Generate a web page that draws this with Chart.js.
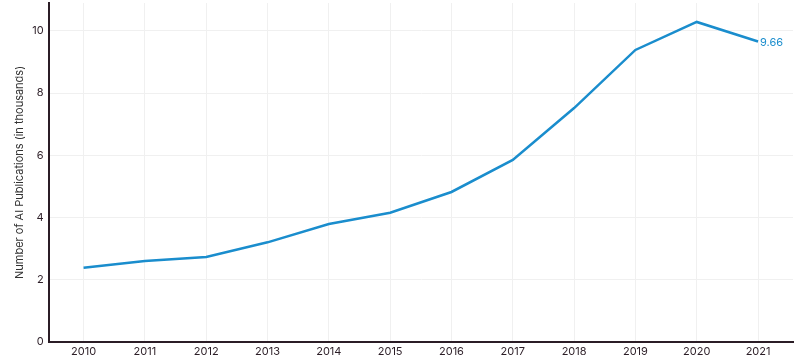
<!DOCTYPE html>
<html>
<head>
<meta charset="utf-8">
<script src="https://cdn.jsdelivr.net/npm/chart.js@4"></script>
<style>
html, body { margin: 0; padding: 0; background: #fff; }
#wrap { width: 800px; height: 363px; }
</style>
</head>
<body>
<div id="wrap"><canvas id="chart"></canvas></div>
<script>
const years = [2010, 2011, 2012, 2013, 2014, 2015, 2016, 2017, 2018, 2019, 2020, 2021];
const pubs = [2.38, 2.6, 2.73, 3.2, 3.79, 4.15, 4.82, 5.85, 7.52, 9.39, 10.29, 9.66];
const yTicks = [0, 2, 4, 6, 8, 10];

const blue = "#1a8dcd";
const ink = "#2b1d26";

// label at the last point
const endLabel = {
    id: "endLabel",
    afterDatasetsDraw(chart) {
        const meta = chart.getDatasetMeta(0);
        const pt = meta.data[meta.data.length - 1];
        const ctx = chart.ctx;
        ctx.save();
        ctx.font = "11px Inter";
        ctx.fillStyle = blue;
        ctx.textBaseline = "middle";
        ctx.textAlign = "left";
        ctx.fillText(pubs[pubs.length - 1].toFixed(2), pt.x + 2, pt.y + 1);
        ctx.restore();
    }
};

new Chart(document.getElementById("chart"), {
    type: "line",
    data: {
        datasets: [{
            data: years.map((y, i) => ({ x: y, y: pubs[i] })),
            borderColor: blue,
            borderWidth: 2.5,
            pointRadius: 0,
            tension: 0
        }]
    },
    options: {
        responsive: true,
        maintainAspectRatio: false,
        animation: false,
        layout: { padding: { top: 3, right: 7, left: 13, bottom: 2 } },
        plugins: { legend: { display: false }, tooltip: { enabled: false } },
        scales: {
            x: {
                type: "linear",
                min: 2009.43,
                max: 2021.57,
                grid: { color: "#f0f0f0", drawTicks: false },
                border: { color: ink, width: 2 },
                ticks: {
                    stepSize: 1,
                    includeBounds: false,
                    padding: 3,
                    color: ink,
                    font: { family: "Inter", size: 11 },
                    callback: v => String(v)
                }
            },
            y: {
                min: 0,
                max: 10.9,
                afterBuildTicks: s => { s.ticks = yTicks.map(v => ({ value: v })); },
                afterFit: s => { s.paddingTop = 0; s.paddingBottom = 0; },
                grid: { color: "#f0f0f0", drawTicks: false },
                border: { color: ink, width: 2 },
                title: {
                    display: true,
                    text: "Number of AI Publications (in thousands)",
                    color: "#333",
                    font: { family: "Inter", size: 11 },
                    padding: { top: 0, bottom: 1 }
                },
                ticks: {
                    padding: 5,
                    color: ink,
                    font: { family: "Inter", size: 11 }
                }
            }
        }
    },
    plugins: [endLabel]
});
</script>
</body>
</html>
